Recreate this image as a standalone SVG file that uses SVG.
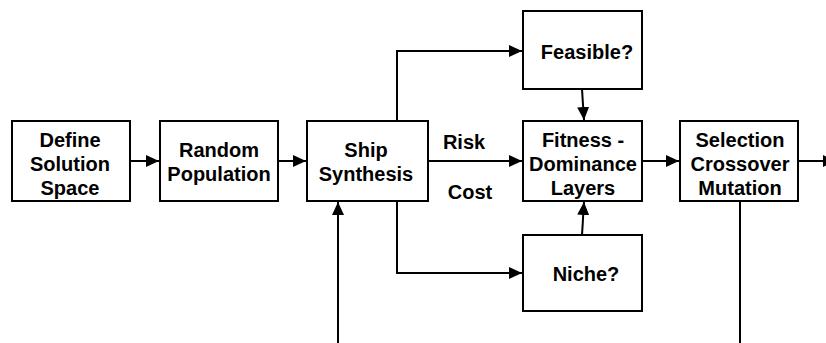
<svg xmlns="http://www.w3.org/2000/svg" width="826" height="343" viewBox="0 0 826 343">
<style>
.box{fill:#fff;stroke:#000;stroke-width:2}
.t{font-family:"Liberation Sans",Arial,sans-serif;font-weight:bold;font-size:20px;text-anchor:middle;fill:#000}
.c{fill:none;stroke:#000;stroke-width:2}
</style>
<defs>
<marker id="ah" markerUnits="userSpaceOnUse" markerWidth="14" markerHeight="14" viewBox="0 0 14 14" refX="13" refY="7" orient="auto">
<path d="M0,1 L13,7 L0,13 Z" fill="#000"/>
</marker>
</defs>
<g id="connectors">
<line class="c" x1="130" y1="161" x2="159" y2="161" marker-end="url(#ah)"/>
<line class="c" x1="278" y1="161" x2="306" y2="161" marker-end="url(#ah)"/>
<line class="c" x1="428" y1="161" x2="522" y2="161" marker-end="url(#ah)"/>
<polyline class="c" points="397,121 397,51 522,51" marker-end="url(#ah)"/>
<polyline class="c" points="397,201 397,273 522,273" marker-end="url(#ah)"/>
<line class="c" x1="582" y1="89" x2="584" y2="120" marker-end="url(#ah)"/>
<line class="c" x1="582" y1="235" x2="584" y2="202" marker-end="url(#ah)"/>
<line class="c" x1="642" y1="161" x2="679" y2="161" marker-end="url(#ah)"/>
<line class="c" x1="798" y1="161" x2="836" y2="161" marker-end="url(#ah)"/>
<line class="c" x1="740" y1="201" x2="740" y2="343"/>
<line class="c" x1="338" y1="343" x2="338" y2="202" marker-end="url(#ah)"/>
<text class="t" x="464" y="149">Risk</text>
<text class="t" x="470" y="199">Cost</text>
</g>
<g id="define">
<rect class="box" x="12" y="121" width="118" height="80"/>
<text class="t" x="70" y="147">Define</text>
<text class="t" x="70" y="171">Solution</text>
<text class="t" x="70" y="195">Space</text>
</g>
<g id="random">
<rect class="box" x="160" y="121" width="118" height="80"/>
<text class="t" x="219" y="157">Random</text>
<text class="t" x="219" y="181">Population</text>
</g>
<g id="ship">
<rect class="box" x="307" y="121" width="121" height="80"/>
<text class="t" x="366" y="157">Ship</text>
<text class="t" x="366" y="181">Synthesis</text>
</g>
<g id="feasible">
<rect class="box" x="523" y="11" width="119" height="78"/>
<text class="t" x="587" y="59">Feasible?</text>
</g>
<g id="fitness">
<rect class="box" x="523" y="121" width="119" height="80"/>
<text class="t" x="583" y="147">Fitness -</text>
<text class="t" x="583" y="171">Dominance</text>
<text class="t" x="583" y="195">Layers</text>
</g>
<g id="niche">
<rect class="box" x="523" y="235" width="119" height="76"/>
<text class="t" x="586" y="281">Niche?</text>
</g>
<g id="selection">
<rect class="box" x="680" y="121" width="118" height="80"/>
<text class="t" x="740" y="147">Selection</text>
<text class="t" x="740" y="171">Crossover</text>
<text class="t" x="740" y="195">Mutation</text>
</g>
</svg>
